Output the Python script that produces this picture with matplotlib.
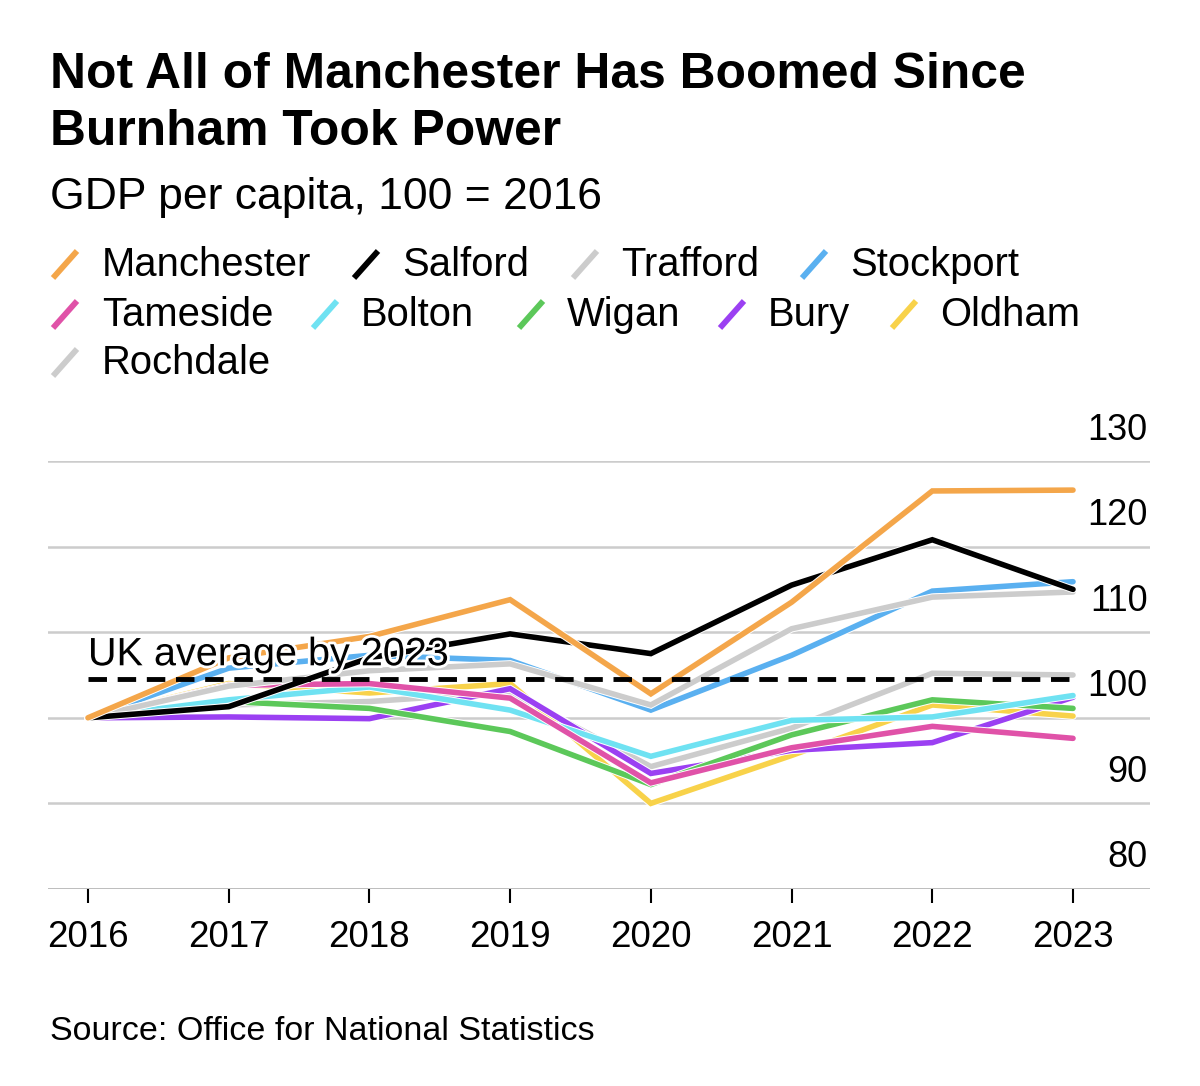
import matplotlib
matplotlib.use("Agg")
import matplotlib.pyplot as plt
import matplotlib.patheffects as pe
from matplotlib.lines import Line2D
import matplotlib.transforms as mtransforms

plt.rcParams['font.family'] = ['Liberation Sans', 'DejaVu Sans']

years = [2016, 2017, 2018, 2019, 2020, 2021, 2022, 2023]
regions = ["Manchester", "Salford", "Trafford", "Stockport", "Tameside",
           "Bolton", "Wigan", "Bury", "Oldham", "Rochdale"]
manchester = [100, 107.0, 109.5, 113.8, 102.8, 113.5, 126.5, 126.6]
salford    = [100, 101.3, 107.0, 109.8, 107.5, 115.5, 120.8, 115.0]
trafford   = [100, 103.7, 105.5, 106.3, 101.5, 110.4, 114.1, 114.7]
stockport  = [100, 105.8, 107.3, 106.7, 100.9, 107.3, 114.8, 115.9]
tameside   = [100, 103.8, 104.0, 102.3, 92.4, 96.5, 99.0, 97.6]
bolton     = [100, 102.1, 103.6, 100.9, 95.5, 99.7, 100.1, 102.6]
wigan      = [100, 101.9, 101.1, 98.4, 92.2, 98.0, 102.1, 101.1]
bury       = [100, 100.1, 99.9, 103.4, 93.5, 96.2, 97.1, 102.4]
oldham     = [100, 104.0, 102.9, 104.0, 90.0, 95.6, 101.5, 100.2]
rochdale   = [100, 101.5, 101.9, 103.0, 94.3, 98.8, 105.2, 105.0]
series = [manchester, salford, trafford, stockport, tameside,
          bolton, wigan, bury, oldham, rochdale]
colors = ["#f4a64a", "#000000", "#cccccc", "#5ab0f0", "#e052a8",
          "#6fe2f2", "#5cc85a", "#9b40f2", "#f8d24a", "#cccccc"]
uk_average_2023 = 104.5
yticks = [80, 90, 100, 110, 120, 130]

W, H = 1200, 1086
fig = plt.figure(figsize=(W / 100, H / 100), dpi=100)
fig.patch.set_facecolor("white")

def fx(px):
    return px / W

def fy(py):
    return 1 - py / H

ax = fig.add_axes([fx(48), fy(889), fx(1150) - fx(48), fy(461) - fy(889)])
ax.set_xlim(2015.716, 2023.547)
ax.set_ylim(80, 130)
for s in ax.spines.values():
    s.set_visible(False)

for v in yticks:
    ax.axhline(v, color="#cccccc", lw=1.8, zorder=0)
ax.axhline(80, color="#bbbbbb", lw=2.0, zorder=0.5)

ax.set_yticks([])
ax.set_xticks(years)
ax.set_xticklabels([str(y) for y in years])
ax.tick_params(axis="x", length=10, width=1.5, color="black", pad=12,
               labelsize=26.5, labelcolor="black")

offset = mtransforms.ScaledTranslation(0, 31 / 100, fig.dpi_scale_trans)
ytrans = mtransforms.blended_transform_factory(ax.transAxes, ax.transData) + offset
for v in yticks:
    ax.text(0.998, v, str(v), transform=ytrans, ha="right", va="center",
            fontsize=26, color="black")

n = len(series)
for i, (vals, c) in enumerate(zip(series, colors)):
    ax.plot(years, vals, color=c, lw=4.0, solid_capstyle="round",
            solid_joinstyle="miter", zorder=10 + (n - i),
            path_effects=[pe.Stroke(linewidth=5.4, foreground="white"), pe.Normal()])

ax.plot([years[0], years[-1]], [uk_average_2023, uk_average_2023], color="black",
        lw=3.5, dashes=(3.8, 2.2), zorder=40)
ax.text(years[0], uk_average_2023 + 0.7, "UK average by 2023", fontsize=28.5,
        ha="left", va="bottom", color="black", zorder=45,
        path_effects=[pe.withStroke(linewidth=4, foreground="white")])

# Title and subtitle
fig.text(fx(50), fy(88), "Not All of Manchester Has Boomed Since", fontsize=35.8,
         fontweight="bold", ha="left", va="baseline")
fig.text(fx(50), fy(145), "Burnham Took Power", fontsize=35.8,
         fontweight="bold", ha="left", va="baseline")
fig.text(fx(50), fy(209), "GDP per capita, 100 = 2016", fontsize=32,
         ha="left", va="baseline")

# Legend (manual)
leg_pos = [(50, 102, 276), (351, 402, 276), (570, 621, 276), (799, 850, 276),
           (50, 102, 326), (310, 361, 326), (516, 567, 326), (717, 768, 326),
           (889, 940, 326), (50, 102, 374)]
for (mx, tx, by), name, c in zip(leg_pos, regions, colors):
    fig.add_artist(Line2D([fx(mx + 3), fx(mx + 27)], [fy(by + 2), fy(by - 25)],
                          color=c, lw=4.2, solid_capstyle="butt"))
    fig.text(fx(tx), fy(by), name, fontsize=28.8, ha="left", va="baseline")

fig.text(fx(50), fy(1040), "Source: Office for National Statistics", fontsize=24.5,
         ha="left", va="baseline")

fig.savefig("out.png", dpi=100, facecolor="white")
